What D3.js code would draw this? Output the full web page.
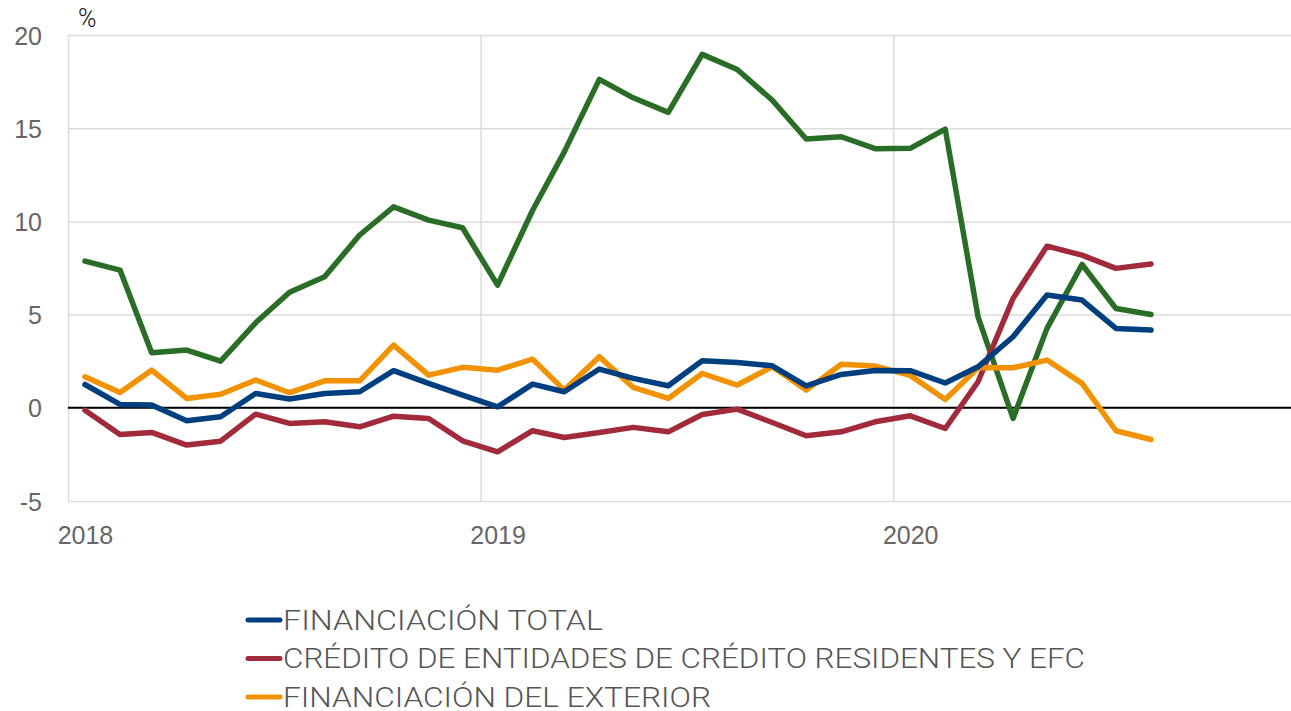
<!DOCTYPE html>
<html>
<head>
<meta charset="utf-8">
<script src="https://cdn.jsdelivr.net/npm/d3@7"></script>
<style>
  body { margin: 0; background: #fff; }
  svg { display: block; font-family: 'Roboto', 'Liberation Sans', sans-serif; }
  .grid line { stroke: #dcdcdc; stroke-width: 1.5; }
  .grid .domain { display: none; }
  .ylab text, .xlab text { fill: #666; font-size: 25px; font-weight: 300; }
  .ylab .domain, .xlab .domain, .ylab line, .xlab line { display: none; }
</style>
</head>
<body>
<svg width="1291" height="711"></svg>
<script>
/* global d3:true */

const months = [
  '2018-01', '2018-02', '2018-03', '2018-04', '2018-05', '2018-06', '2018-07', '2018-08',
  '2018-09', '2018-10', '2018-11', '2018-12', '2019-01', '2019-02', '2019-03', '2019-04',
  '2019-05', '2019-06', '2019-07', '2019-08', '2019-09', '2019-10', '2019-11', '2019-12',
  '2020-01', '2020-02', '2020-03', '2020-04', '2020-05', '2020-06', '2020-07', '2020-08'
]

const financiacionTotal = [
  1.25, 0.18, 0.15, -0.7, -0.48, 0.77, 0.47, 0.77, 0.86, 1.99, 1.31, 0.68,
  0.05, 1.27, 0.86, 2.08, 1.58, 1.18, 2.52, 2.43, 2.25, 1.18, 1.79, 2.0,
  1.99, 1.33, 2.2, 3.81, 6.05, 5.78, 4.26, 4.17
]

const creditoResidentes = [
  -0.13, -1.43, -1.32, -2.0, -1.79, -0.34, -0.84, -0.75, -1.02, -0.45, -0.57, -1.77,
  -2.36, -1.23, -1.59, -1.32, -1.05, -1.29, -0.36, -0.07, -0.79, -1.5, -1.29, -0.75,
  -0.43, -1.11, 1.4, 5.87, 8.67, 8.19, 7.48, 7.71
]

const financiacionExterior = [
  1.66, 0.82, 2.02, 0.5, 0.73, 1.49, 0.81, 1.45, 1.45, 3.36, 1.75, 2.17,
  2.02, 2.61, 0.95, 2.74, 1.09, 0.5, 1.84, 1.22, 2.2, 0.95, 2.34, 2.24,
  1.74, 0.45, 2.15, 2.15, 2.56, 1.31, -1.23, -1.7
]

// cuarta serie (sin entrada visible en la leyenda)
const otraFinanciacion = [
  7.87, 7.39, 2.95, 3.1, 2.5, 4.56, 6.2, 7.03, 9.27, 10.78, 10.07, 9.66,
  6.58, 10.6, 13.73, 17.62, 16.63, 15.85, 18.96, 18.15, 16.5, 14.42, 14.54, 13.9,
  13.92, 14.95, 4.88, -0.57, 4.26, 7.69, 5.33, 5.01
]

const yTicks = [-5, 0, 5, 10, 15, 20]
const xYears = ['2018', '2019', '2020', '2021']

const series = [
  { name: 'OTRA', values: otraFinanciacion, color: '#2a6d27' },
  { name: 'CRÉDITO DE ENTIDADES DE CRÉDITO RESIDENTES Y EFC', values: creditoResidentes, color: '#a12a3b' },
  { name: 'FINANCIACIÓN DEL EXTERIOR', values: financiacionExterior, color: '#f39200' },
  { name: 'FINANCIACIÓN TOTAL', values: financiacionTotal, color: '#003f7f' }
]
const legendOrder = ['FINANCIACIÓN TOTAL', 'CRÉDITO DE ENTIDADES DE CRÉDITO RESIDENTES Y EFC', 'FINANCIACIÓN DEL EXTERIOR']

const parseMonth = d3.timeParse('%Y-%m')
const midMonth = (m) => d3.timeDay.offset(parseMonth(m), 15)
const yearDate = (y) => new Date(+y, 0, 1)

const svg = d3.select('svg')
const margin = { top: 35, left: 68 }
const plotW = 1239
const plotH = 466

const x = d3.scaleTime()
  .domain([yearDate('2018'), yearDate('2021')])
  .range([0, plotW])
const y = d3.scaleLinear()
  .domain([-5, 20])
  .range([plotH, 0])

const g = svg.append('g')
  .attr('transform', 'translate(' + margin.left + ',' + margin.top + ')')

// horizontal gridlines
g.append('g')
  .attr('class', 'grid')
  .call(d3.axisLeft(y).tickValues(yTicks).tickSize(-plotW).tickFormat(''))

// vertical gridlines at year starts
g.append('g')
  .attr('class', 'grid')
  .call(d3.axisBottom(x).tickValues(xYears.map(yearDate)).tickSize(plotH).tickFormat(''))

// y labels
g.append('g')
  .attr('class', 'ylab')
  .attr('transform', 'translate(-26,0)')
  .call(d3.axisLeft(y).tickValues(yTicks).tickSize(0).tickPadding(0).tickFormat((d) => String(d)))
  .selectAll('text')
  .attr('dy', '0.36em')

// x labels, centred on first month of each year
g.append('g')
  .attr('class', 'xlab')
  .attr('transform', 'translate(0,' + (plotH + 19) + ')')
  .call(d3.axisBottom(x).tickValues(xYears.slice(0, 3).map((d) => midMonth(d + '-01'))).tickSize(0).tickPadding(0).tickFormat(d3.timeFormat('%Y')))
  .selectAll('text')
  .attr('dy', '0.95em')

// zero line
g.append('line')
  .attr('x1', 0)
  .attr('x2', plotW)
  .attr('y1', y(0))
  .attr('y2', y(0))
  .attr('stroke', '#000')
  .attr('stroke-width', 2)

const line = d3.line()
  .x((d, i) => x(midMonth(months[i])))
  .y((d) => y(d))

g.selectAll('.serie')
  .data(series)
  .enter().append('path')
  .attr('class', 'serie')
  .attr('d', (d) => line(d.values))
  .attr('fill', 'none')
  .attr('stroke', (d) => d.color)
  .attr('stroke-width', 5.5)
  .attr('stroke-linejoin', 'round')
  .attr('stroke-linecap', 'round')

svg.append('text')
  .attr('x', 78)
  .attr('y', 27)
  .attr('font-size', 25)
  .attr('font-weight', 300)
  .attr('fill', '#111')
  .text('%')

// legend
const legendWidths = [320, 802, 428]
const legendData = legendOrder.map((n) => series.find((s) => s.name === n))
const leg = svg.append('g')
  .attr('transform', 'translate(248,620)')
const item = leg.selectAll('g')
  .data(legendData)
  .enter().append('g')
  .attr('transform', (d, i) => 'translate(0,' + (i * 38.5) + ')')
item.append('line')
  .attr('x1', 0)
  .attr('x2', 32)
  .attr('stroke', (d) => d.color)
  .attr('stroke-width', 5)
  .attr('stroke-linecap', 'round')
item.append('text')
  .attr('x', 35)
  .attr('dy', '0.36em')
  .attr('font-size', 27)
  .attr('font-weight', 300)
  .attr('fill', '#555')
  .attr('textLength', (d, i) => legendWidths[i])
  .attr('lengthAdjust', 'spacingAndGlyphs')
  .text((d) => d.name)
</script>
</body>
</html>
